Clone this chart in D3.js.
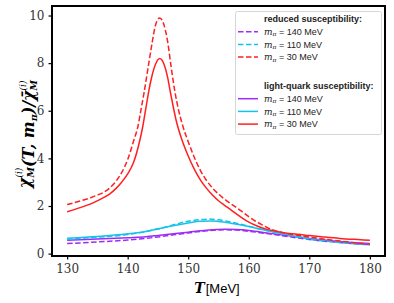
<!DOCTYPE html>
<html>
<head>
<meta charset="utf-8">
<script src="https://cdn.jsdelivr.net/npm/d3@7"></script>
<style>
  body { margin: 0; background: #fff; }
</style>
</head>
<body>
<svg id="svg" width="394" height="303"></svg>
<script>
// temperatures (MeV) and chi values
var redSolidT = [130, 132, 134, 136, 137, 138, 139, 140, 141, 142, 142.5, 143, 143.5, 144, 144.6, 145.3, 146, 146.6, 147, 147.5, 148, 149, 150, 151, 152, 153, 154, 155, 156, 157, 158, 159, 160, 161, 162, 164, 166, 168, 170, 172, 175, 178, 180];
var redSolid  = [1.76, 1.92, 2.1, 2.35, 2.5, 2.72, 3.0, 3.35, 3.85, 4.75, 5.35, 6.1, 6.85, 7.45, 7.95, 8.19, 7.95, 7.4, 6.85, 6.2, 5.6, 4.75, 4.1, 3.55, 3.1, 2.75, 2.46, 2.22, 2.03, 1.85, 1.66, 1.48, 1.32, 1.2, 1.1, 0.96, 0.87, 0.81, 0.76, 0.71, 0.64, 0.59, 0.56];

var redDashT = [130, 132, 134, 135, 136, 137, 138, 139, 140, 141, 141.7, 142.2, 142.7, 143.3, 144, 144.6, 145.3, 146, 146.6, 147.2, 147.8, 148.3, 149, 150, 151, 152, 153, 154, 155, 156, 157, 158, 159, 160, 161, 162, 163, 164, 166, 168, 170, 173, 176, 178, 180];
var redDash  = [2.06, 2.2, 2.36, 2.46, 2.57, 2.75, 3.02, 3.4, 3.95, 4.75, 5.35, 6.05, 6.75, 7.7, 8.8, 9.6, 9.9, 9.6, 8.9, 7.8, 6.8, 6.15, 5.45, 4.7, 4.05, 3.5, 3.08, 2.76, 2.5, 2.29, 2.1, 1.93, 1.74, 1.55, 1.38, 1.24, 1.1, 0.99, 0.86, 0.77, 0.7, 0.59, 0.5, 0.44, 0.4];

var cyanSolidT = [130, 135, 140, 143, 145, 147, 150, 152, 154, 155, 157, 160, 162, 165, 168, 170, 175, 180];
var cyanSolid  = [0.65, 0.72, 0.83, 0.93, 1.04, 1.15, 1.29, 1.36, 1.37, 1.35, 1.28, 1.14, 1.02, 0.87, 0.72, 0.63, 0.48, 0.38];

var cyanDashT = [130, 135, 140, 145, 150, 152, 153.5, 155, 157, 160, 162, 165, 168, 170, 175, 180];
var cyanDash  = [0.6, 0.69, 0.8, 1.03, 1.36, 1.43, 1.45, 1.42, 1.33, 1.15, 1.02, 0.85, 0.7, 0.61, 0.47, 0.37];

var purpleSolidT = [130, 135, 140, 143, 145, 150, 153, 156, 158, 160, 163, 165, 168, 170, 175, 180];
var purpleSolid  = [0.56, 0.61, 0.67, 0.71, 0.76, 0.9, 0.98, 1.02, 1.01, 0.97, 0.87, 0.8, 0.7, 0.63, 0.51, 0.42];

var purpleDashT = [130, 135, 140, 143, 145, 150, 153, 156, 158, 160, 163, 165, 168, 170, 175, 180];
var purpleDash  = [0.42, 0.49, 0.57, 0.64, 0.7, 0.87, 0.96, 1.0, 0.99, 0.94, 0.84, 0.77, 0.66, 0.59, 0.47, 0.37];

var xTicks = [130, 140, 150, 160, 170, 180];
var yTicks = [0, 2, 4, 6, 8, 10];
var massLabels = ["140", "110", "30"];

var purple = "#9d2cfa", cyan = "#16c3e8", red = "#ff1f1f";
var serif = "'DejaVu Serif', serif", sans = "'Liberation Sans', Arial, sans-serif";

var svg = d3.select("#svg"),
  margin = {top: 6, right: 9, bottom: 47, left: 52},
  width = 394 - margin.left - margin.right,
  height = 303 - margin.top - margin.bottom,
  g = svg.append("g").attr("transform", "translate(" + margin.left + "," + margin.top + ")");

var x = d3.scaleLinear().domain([127.5, 182.5]).range([0, width]),
    y = d3.scaleLinear().domain([-0.1, 10.4]).range([height, 0]);

var line = d3.line()
  .curve(d3.curveMonotoneX)
  .x(function (d) { return x(d[0]); })
  .y(function (d) { return y(d[1]); });

function pairs(ts, vs) {
  return ts.map(function (t, i) { return [t, vs[i]]; });
}

var series = [
  {pts: pairs(purpleSolidT, purpleSolid), color: purple, dash: null},
  {pts: pairs(cyanSolidT, cyanSolid), color: cyan, dash: null},
  {pts: pairs(redSolidT, redSolid), color: red, dash: null},
  {pts: pairs(purpleDashT, purpleDash), color: purple, dash: "5.5,2.5"},
  {pts: pairs(cyanDashT, cyanDash), color: cyan, dash: "5.5,2.5"},
  {pts: pairs(redDashT, redDash), color: red, dash: "5.5,2.5"}
];

g.selectAll(".line")
  .data(series)
  .enter()
  .append("path")
  .attr("class", "line")
  .attr("fill", "none")
  .attr("stroke-width", 1.5)
  .attr("stroke", function (d) { return d.color; })
  .attr("stroke-dasharray", function (d) { return d.dash; })
  .attr("d", function (d) { return line(d.pts); });

// axes
var xAxis = g.append("g")
  .attr("transform", "translate(0," + height + ")")
  .call(d3.axisBottom(x).tickValues(xTicks).tickSize(3.5).tickPadding(5));
var yAxis = g.append("g")
  .call(d3.axisLeft(y).tickValues(yTicks).tickSize(3.5).tickPadding(4));
[xAxis, yAxis].forEach(function (a) {
  a.attr("font-size", 12);
  a.select(".domain").remove();
  a.selectAll(".tick line").attr("stroke", "#000").attr("stroke-width", 1.2);
  a.selectAll(".tick text").attr("fill", "#333").style("font-family", serif);
});

g.append("rect")
  .attr("width", width)
  .attr("height", height)
  .attr("fill", "none")
  .attr("stroke", "#000")
  .attr("stroke-width", 2);

// axis labels
var xl = svg.append("text")
  .attr("x", 217)
  .attr("y", 293)
  .attr("text-anchor", "middle")
  .attr("font-size", 14);
xl.append("tspan").style("font-family", serif).attr("font-style", "italic").attr("font-weight", "bold").text("T");
xl.append("tspan").style("font-family", sans).attr("font-size", 13).attr("dx", 1).text("[MeV]");

var yl = svg.append("text")
  .attr("transform", "translate(30," + 134 + ") rotate(-90)")
  .attr("text-anchor", "middle")
  .style("font-family", serif)
  .attr("font-style", "italic")
  .attr("font-weight", "bold")
  .attr("font-size", 16);

function supSub(parent) {
  var sup = parent.append("tspan").attr("font-size", 9).attr("dy", -8).attr("font-weight", "normal").text("(i)");
  var w = sup.node().getComputedTextLength();
  var sub = parent.append("tspan").attr("font-size", 9.5).attr("dx", -w).attr("dy", 11.5).text("M");
  var ws = sub.node().getComputedTextLength();
  parent.append("tspan").attr("dx", Math.max(0, w - ws)).attr("dy", -3.5).text("");
}
yl.append("tspan").text("χ");
supSub(yl);
yl.append("tspan").text("(T, m");
yl.append("tspan").attr("font-size", 9.5).attr("dy", 3).text("π");
yl.append("tspan").attr("dy", -3).text(")/χ̄");
supSub(yl);

// legend
var legend = svg.append("g").style("font-family", sans).attr("font-size", 9).attr("fill", "#222");
legend.append("rect")
  .attr("x", 235.5).attr("y", 11.5)
  .attr("width", 146).attr("height", 123)
  .attr("rx", 2)
  .attr("fill", "#fff")
  .attr("stroke", "#d6d6d6")
  .attr("stroke-width", 1);

var groups = [
  {title: "reduced susceptibility:", dash: "5.5,2.5", y0: 19},
  {title: "light-quark susceptibility:", dash: null, y0: 86}
];
var legendColors = [purple, cyan, red];

groups.forEach(function (grp) {
  legend.append("text")
    .attr("x", 264).attr("y", grp.y0).attr("dy", "0.35em")
    .attr("font-weight", "bold")
    .text(grp.title);
  var rows = legend.selectAll(null)
    .data(massLabels)
    .enter()
    .append("g")
    .attr("transform", function (d, i) { return "translate(0," + (grp.y0 + 12.7 * (i + 1)) + ")"; });
  rows.append("line")
    .attr("x1", 238).attr("x2", 258)
    .attr("stroke", function (d, i) { return legendColors[i]; })
    .attr("stroke-width", 1.5)
    .attr("stroke-dasharray", grp.dash);
  var t = rows.append("text").attr("x", 264).attr("dy", "0.35em");
  t.append("tspan").style("font-family", serif).attr("font-style", "italic").text("m");
  t.append("tspan").style("font-family", serif).attr("font-style", "italic").attr("font-size", 6).attr("dy", 1.5).text("π");
  t.append("tspan").attr("dy", -1.5).text(function (d) { return " = " + d + " MeV"; });
});
</script>
</body>
</html>
